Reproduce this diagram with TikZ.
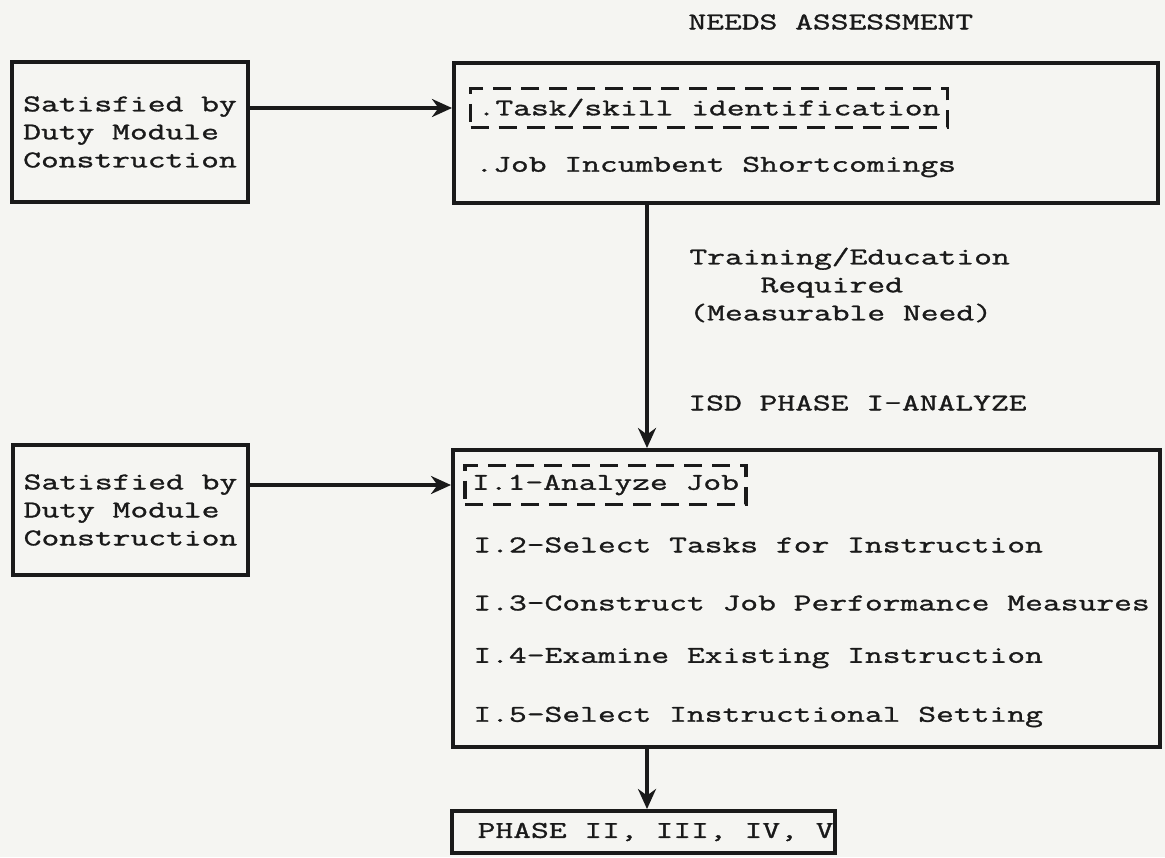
\documentclass[tikz,border=0pt]{standalone}
\usepackage{fontspec}
\usetikzlibrary{arrows.meta}
% typewriter face: Latin Modern Mono, widened and thickened a little
\newfontfamily\twface[FakeStretch=1.44,FakeBold=1.3]{Latin Modern Mono}
\newcommand\twtext{\twface\fontsize{12pt}{14pt}\selectfont}
\definecolor{ink}{HTML}{1A1A1A}
\definecolor{paper}{HTML}{F5F5F2}

\begin{document}
\begin{tikzpicture}[x=0.5pt,y=-0.5pt,
  every node/.style={font=\twtext, text=ink},
  box/.style={draw=ink, line width=2pt, inner sep=0pt},
  dbox/.style={draw=ink, line width=1.6pt, dash pattern=on 9pt off 5pt,
               inner xsep=3.5pt, inner ysep=0pt, minimum height=19.5pt},
  line/.style={anchor=west, inner sep=0pt},
  arr/.style={draw=ink, line width=1.8pt, -{Stealth[length=10pt,width=9pt]}}]

% page
\path[fill=paper] (0,0) rectangle (1165,857);

% heading
\node[line] (title) at (688,22) {NEEDS ASSESSMENT};

% side boxes
\node[box, minimum width=118pt, minimum height=70pt, align=left] (sat1) at (130,132)
  {Satisfied by\\Duty Module\\Construction};
\node[box, minimum width=117.5pt, minimum height=65pt, align=left] (sat2) at (130.5,510)
  {Satisfied by\\Duty Module\\Construction};

% needs assessment box
\node[box, minimum width=352pt, minimum height=70pt] (needs) at (806,133) {};
\node[dbox] (task) at (709,108) {.Task/skill identification};
\node[line] (short) at (475,167) {.Job Incumbent Shortcomings};

% phase I box
\node[box, minimum width=353.5pt, minimum height=148.5pt] (analyze) at (806.5,598.5) {};
\node[dbox] (job) at (605.5,485) {I.1-Analyze Job};
\node[line] (sel) at (473,545) {I.2-Select Tasks for Instruction};
\node[line] (jpm) at (473,603) {I.3-Construct Job Performance Measures};
\node[line] (exam) at (473,658) {I.4-Examine Existing Instruction};
\node[line] (setting) at (473,717) {I.5-Select Instructional Setting};

% later phases
\node[box, minimum width=191.5pt, minimum height=21pt] (later) at (643.5,832) {};
\node[anchor=east, inner sep=0pt] (latertxt) at (834,832) {PHASE II, III, IV, V};

% labels on the vertical flow
\node[line, align=left] (need) at (689,285)
  {Training/Education\\\hphantom{Trai}Required\\(Measurable Need)};
\node[line] (isd) at (688,403) {ISD PHASE I-ANALYZE};

% connectors
\coordinate (spine) at (647,0);
\draw[arr] (sat1.east |- task.west) -- (needs.west |- task.west);
\draw[arr] (sat2.east |- job.west) -- (analyze.west |- job.west);
\draw[arr] (needs.south -| spine) -- (analyze.north -| spine);
\draw[arr] (analyze.south -| spine) -- (later.north -| spine);
\end{tikzpicture}
\end{document}
